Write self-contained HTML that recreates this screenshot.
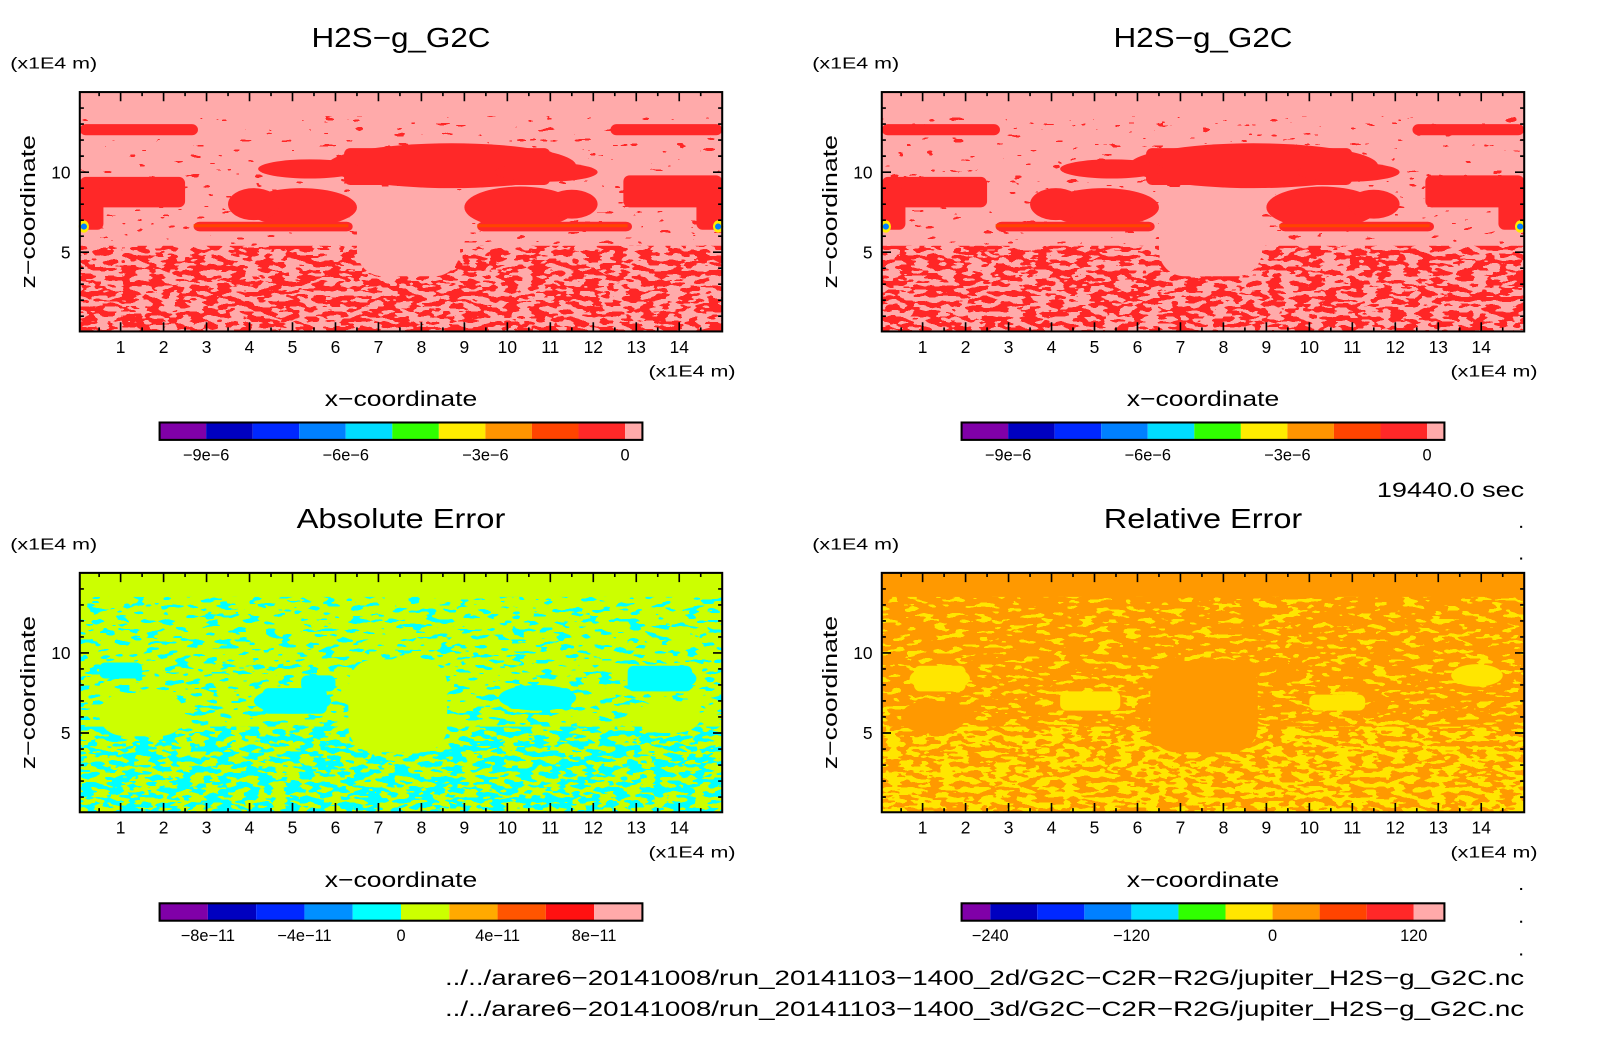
<!DOCTYPE html>
<html><head><meta charset="utf-8"><style>
html,body{margin:0;padding:0;background:#fff;}
svg{display:block;font-family:"Liberation Sans",sans-serif;}
</style></head><body>
<svg id="s" width="1604" height="1054" viewBox="0 0 1568 1030.3" preserveAspectRatio="none" xmlns="http://www.w3.org/2000/svg">
<defs>
<filter id="fDense" x="0" y="0" width="1" height="1" filterUnits="objectBoundingBox">
 <feTurbulence type="fractalNoise" baseFrequency="0.075 0.2" numOctaves="2" seed="3" result="t"/>
 <feColorMatrix in="t" type="matrix" values="0 0 0 0 0  0 0 0 0 0  0 0 0 0 0  1 0 0 0 0" result="a"/>
 <feComponentTransfer in="a" result="th"><feFuncA type="discrete" tableValues="0 0 0 0 0 1 1 1 1 1"/></feComponentTransfer>
 <feComposite in="SourceGraphic" in2="th" operator="in"/>
</filter>
<filter id="fSparse" x="0" y="0" width="1" height="1" filterUnits="objectBoundingBox">
 <feTurbulence type="fractalNoise" baseFrequency="0.07 0.2" numOctaves="2" seed="7" result="t"/>
 <feColorMatrix in="t" type="matrix" values="0 0 0 0 0  0 0 0 0 0  0 0 0 0 0  1 0 0 0 0" result="a"/>
 <feComponentTransfer in="a" result="th"><feFuncA type="discrete" tableValues="0 0 0 0 0 0 1 1 1 1"/></feComponentTransfer>
 <feComposite in="SourceGraphic" in2="th" operator="in"/>
</filter>
<filter id="fSparser" x="0" y="0" width="1" height="1" filterUnits="objectBoundingBox">
 <feTurbulence type="fractalNoise" baseFrequency="0.07 0.2" numOctaves="2" seed="11" result="t"/>
 <feColorMatrix in="t" type="matrix" values="0 0 0 0 0  0 0 0 0 0  0 0 0 0 0  1 0 0 0 0" result="a"/>
 <feComponentTransfer in="a" result="th"><feFuncA type="discrete" tableValues="0 0 0 0 0 0 0 0 1 1 1"/></feComponentTransfer>
 <feComposite in="SourceGraphic" in2="th" operator="in"/>
</filter>
</defs>
</svg>
<script>
// ---- data ----
const xTicks = [1,2,3,4,5,6,7,8,9,10,11,12,13,14];
const zTicks = [5,10];
const topColors = ["#8000a8","#0000c0","#0028ff","#0080ff","#00dcff","#30ff00","#ffec00","#ff9400","#ff4400","#ff2828","#ffaaaa"];
const topLabels = ["-9e-6","-6e-6","-3e-6","0"];
const topLabelBounds = [1,4,7,10];
const absColors = ["#8000a8","#0000c0","#0028ff","#0090ff","#00ffff","#ccff00","#ffaa00","#ff5500","#ff1111","#ffaaaa"];
const absLabels = ["-8e-11","-4e-11","0","4e-11","8e-11"];
const absLabelBounds = [1,3,5,7,9];
const relColors = ["#8000a8","#0000c0","#0028ff","#0080ff","#00dcff","#30ff00","#ffe600","#ff9400","#ff4400","#ff2828","#ffaaaa"];
const relLabels = ["-240","-120","0","120"];
const relLabelBounds = [1,4,7,10];
// field structure (data units: x, z in 1E4 m)
const topRects = [[0.05,2.8,12.3,13.0],[12.4,15,12.3,13.0],[0.05,2.5,7.8,9.7],[0.05,0.6,6.4,9.0],[6.2,11.0,9.2,11.5],[12.7,15,7.8,9.8],[14.4,15,6.4,9],[2.7,6.4,6.3,6.9],[9.3,12.9,6.3,6.9]];
const topEllipses = [[8.7,10.4,2.9,1.4],[5.2,7.8,1.3,1.2],[4.1,8.0,0.6,1.0],[10.3,7.8,1.3,1.3],[11.5,8.0,0.6,0.9],[5.4,10.2,1.2,0.6],[10.9,10.0,1.2,0.6]];
const topHoles = [[6.5,8.9,3.5,9.1]];
const absRects = [[4.3,5.8,6.2,7.8],[10.0,11.5,6.5,7.8],[12.8,14.3,7.6,9.2],[0.5,1.5,8.4,9.4],[5.2,6.0,7.6,8.6]];
const absEllipses = [[5.0,7.0,0.9,0.8],[10.7,7.2,0.9,0.8],[13.6,8.4,0.8,0.8]];
const absHoles = [[6.3,8.6,3.8,9.6],[0.5,2.5,4.8,7.5],[13.0,14.5,5.0,7.0]];
const relRects = [[0.8,2.0,7.6,9.2],[4.2,5.6,6.4,7.6],[10.0,11.3,6.4,7.4]];
const relEllipses = [[1.4,8.4,0.7,0.8],[13.9,8.6,0.6,0.7]];
const relHoles = [[6.3,8.8,3.8,9.5],[0.5,2.0,5.0,7.0]];

const NS="http://www.w3.org/2000/svg";
const svg=document.getElementById('s');
function el(tag,attrs,parent){const e=document.createElementNS(NS,tag);for(const k in attrs)e.setAttribute(k,attrs[k]);(parent||svg).appendChild(e);return e;}
function txt(str,x,y,size,anchor,parent,len){const a={x:x,y:y,'font-size':size,'text-anchor':anchor||'middle',fill:'#000'};if(len){a.textLength=len;a.lengthAdjust='spacingAndGlyphs';}const t=el('text',a,parent);t.textContent=str;return t;}

function panel(name,L,T,title,titleLen,base,spec,rects,ellipses,holes,blobColor,extraSpots,sparseFilter){
  const W=628,H=234,R=L+W,B=T+H;
  const xs=v=>L+(v-0.05)*(W/14.95);
  const zs=v=>B-(v-0.05)*(H/14.95);
  const g=el('g',{});
  
  
  const t=txt(title,(L+R)/2-0,T-44,27,'middle',g,titleLen);
  
  
  const u=txt('(x1E4 m)',L-68,T-23,15,'start',g,85);
  
  
  const bg=el('rect',{x:L,y:T,width:W,height:H,fill:base},g);
  
  
  const d=el('rect',{x:L,y:zs(5.4),width:W,height:B-zs(5.4),fill:spec,filter:'url(#fDense)'},g);
  
  
  const s=el('rect',{x:L,y:zs(13.5),width:W,height:zs(5.4)-zs(13.5),fill:spec,filter:'url(#'+sparseFilter+')'},g);
  
  
  holes.forEach(h=>{const r=el('rect',{x:xs(h[0]),y:zs(h[3]),width:xs(h[1])-xs(h[0]),height:zs(h[2])-zs(h[3]),rx:25,fill:base},g);
    
    });
  rects.forEach(h=>{const r=el('rect',{x:xs(h[0]),y:zs(h[3]),width:xs(h[1])-xs(h[0]),height:zs(h[2])-zs(h[3]),rx:6,fill:blobColor},g);
    
    });
  ellipses.forEach(h=>{const r=el('ellipse',{cx:xs(h[0]),cy:zs(h[1]),rx:xs(h[0]+h[2])-xs(h[0]),ry:zs(h[1])-zs(h[1]+h[3]),fill:blobColor},g);
    
    });
  if(extraSpots){
    const l=el('rect',{x:xs(2.7),y:zs(6.75),width:xs(6.3)-xs(2.7),height:3,fill:'#ff4400'},g);
    
    
    const l2=el('rect',{x:xs(9.3),y:zs(6.75),width:xs(12.8)-xs(9.3),height:3,fill:'#ff4400'},g);
    
    
    [L,R-8].forEach(px=>{
      const a=el('ellipse',{cx:px+4,cy:zs(6.6),rx:5,ry:6,fill:'#ffec00'},g);
      
      
      const b=el('ellipse',{cx:px+4,cy:zs(6.6),rx:3,ry:3,fill:'#0080ff'},g);
      
      });
  }
  const fr=el('rect',{x:L,y:T,width:W,height:H,fill:'none',stroke:'#000','stroke-width':2},g);
  
  
  let p='';
  for(let v=0.5;v<15;v+=0.5){const X=xs(v);const len=(v%1===0)?9:4;p+=`M${X},${B}v${-len}M${X},${T}v${len}`;}
  for(let v=1;v<15;v+=1){const Y=zs(v);const len=(v%5===0)?9:4;p+=`M${L},${Y}h${len}M${R},${Y}h${-len}`;}
  const tk=el('path',{d:p,stroke:'#000','stroke-width':1.6,fill:'none'},g);
  
  
  xTicks.forEach(v=>{const a=txt(String(v),xs(v),B+21,17,'middle',g);
    
    });
  zTicks.forEach(v=>{const a=txt(String(v),L-9,zs(v)+6,17,'end',g);
    
    });
  const xu=txt('(x1E4 m)',R-72,B+44,15,'start',g,85);
  
  
  const xt=txt('x\u2212coordinate',(L+R)/2,B+73,21,'middle',g,149);
  
  
  const zt=txt('z\u2212coordinate',0,0,20,'middle',g,150);
  zt.setAttribute('transform',`translate(${L-44},${(T+B)/2}) rotate(-90)`);
  
  
}

function colorbar(name,L,widths,colors,labels,bounds,y){
  const g=el('g',{});
  
  
  let x=L;const edges=[L];
  colors.forEach((c,i)=>{const r=el('rect',{x:x,y:y,width:widths[i],height:17,fill:c},g);
    
    
    x+=widths[i];edges.push(x);});
  const f=el('rect',{x:L,y:y,width:x-L,height:17,fill:'none',stroke:'#000','stroke-width':2},g);
  
  
  labels.forEach((lb,i)=>{const t=txt(lb.replace(/-/g,'\u2212'),edges[bounds[i]],y+37,16,'middle',g);
    
    });
}

panel('panel-h2s-2d',78,90,'H2S\u2212g_G2C',175,'#ffaaaa','#ff2828',topRects,topEllipses,topHoles,'#ff2828',true,'fSparser');
panel('panel-h2s-3d',862,90,'H2S\u2212g_G2C',175,'#ffaaaa','#ff2828',topRects,topEllipses,topHoles,'#ff2828',true,'fSparser');
panel('panel-absolute-error',78,560,'Absolute Error',204,'#ccff00','#00ffff',absRects,absEllipses,absHoles,'#00ffff',false,'fSparse');
panel('panel-relative-error',862,560,'Relative Error',194,'#ff9900','#ffe600',relRects,relEllipses,relHoles,'#ffe600',false,'fSparse');

const w45=Array(10).fill(45.5).concat([17]);
colorbar('colorbar-h2s-2d',156,w45,topColors,topLabels,topLabelBounds,413);
colorbar('colorbar-h2s-3d',940,w45,topColors,topLabels,topLabelBounds,413);
colorbar('colorbar-absolute-error',156,Array(10).fill(47.2),absColors,absLabels,absLabelBounds,883);
colorbar('colorbar-relative-error',940,[28].concat(Array(9).fill(46)).concat([30]),relColors,relLabels,relLabelBounds,883);

const tm=txt('19440.0 sec',1490,486,21,'end',null,144);


const f1=txt('../../arare6\u221220141008/run_20141103\u22121400_2d/G2C\u2212C2R\u2212R2G/jupiter_H2S\u2212g_G2C.nc',1490,963,21,'end',null,1055);


const f2=txt('../../arare6\u221220141008/run_20141103\u22121400_3d/G2C\u2212C2R\u2212R2G/jupiter_H2S\u2212g_G2C.nc',1490,993,21,'end',null,1055);


[514,545,836,868,900,932].forEach(y=>{const d=el('rect',{x:1486,y:y,width:2,height:2,fill:'#000'});
  
  });
</script>
</body></html>
